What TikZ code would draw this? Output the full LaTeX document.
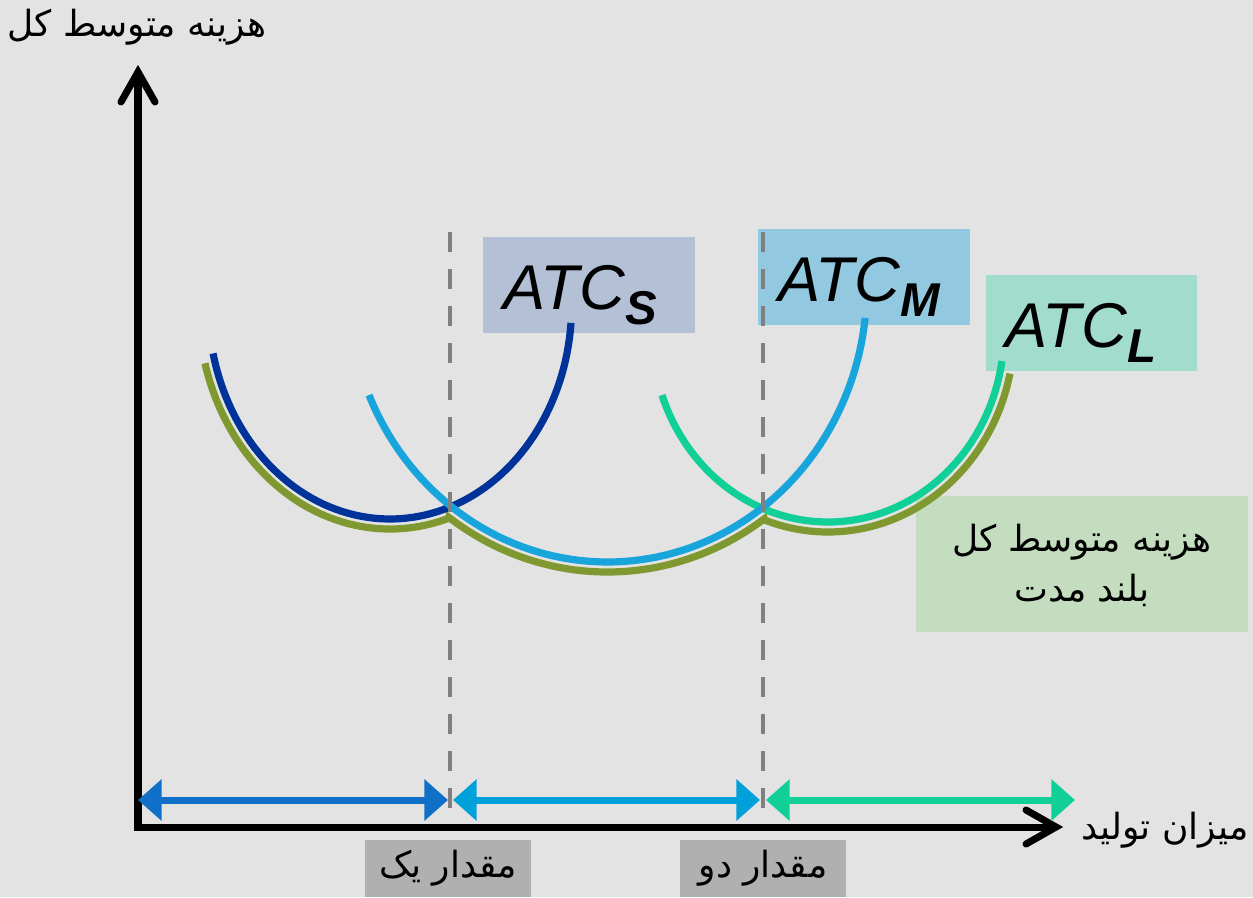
\documentclass[tikz,border=0pt]{standalone}
\usepackage{fontspec}
\setmainfont{Liberation Sans}
\newfontfamily\fafont[Script=Arabic]{DejaVu Sans}
\TeXXeTstate=1
\usetikzlibrary{arrows.meta}
\definecolor{bg}{RGB}{227,227,227}
\definecolor{dkblue}{RGB}{0,51,153}
\definecolor{ltblue}{RGB}{24,165,220}
\definecolor{teal1}{RGB}{16,208,152}
\definecolor{olive1}{RGB}{127,152,48}
\definecolor{arr1}{RGB}{16,112,200}
\definecolor{arr2}{RGB}{0,160,218}
\definecolor{arr3}{RGB}{16,208,152}
\definecolor{boxS}{RGB}{180,192,214}
\definecolor{boxM}{RGB}{146,200,224}
\definecolor{boxL}{RGB}{162,220,204}
\definecolor{boxLR}{RGB}{197,221,191}
\definecolor{boxQ}{RGB}{176,176,176}
\definecolor{dashgray}{RGB}{128,128,128}
\newcommand\myatc[1]{{\fontsize{36}{40}\selectfont\itshape ATC\raisebox{-9pt}{\fontsize{27}{30}\selectfont\bfseries\itshape #1}}}
\begin{document}
\begin{tikzpicture}[x=0.02cm,y=-0.02cm,
  fatext/.style={font=\fafont\fontsize{20.5}{28.5}\selectfont, inner sep=0pt},
  atclabel/.style={anchor=base west, inner sep=0pt},
  curve/.style={line width=4.1pt},
  axisline/.style={line width=4pt, black},
  dimarrow/.style={line width=4pt, {Triangle[length=13.5pt,width=23pt]}-{Triangle[length=13.5pt,width=23pt]}},
  guide/.style={dashgray, line width=2.5pt, dash pattern=on 11.4pt off 9.7pt}
]
\useasboundingbox (0,0) rectangle (1253,897);
\fill[bg] (0,0) rectangle (1253,897);

% label boxes
\fill[boxS] (483,237) rectangle (695,333);
\fill[boxM] (758,229) rectangle (970,325);
\fill[boxL] (986,275) rectangle (1197,371);
\fill[boxLR] (916,496) rectangle (1248,632);
\fill[boxQ] (365,840) rectangle (531,897);
\fill[boxQ] (680,840) rectangle (846,897);

% ATC labels
\node[atclabel] (tS) at (503,309) {\myatc{S}};
\node[atclabel] (tM) at (778,301) {\myatc{M}};
\node[atclabel] (tL) at (1005,347) {\myatc{L}};

% long-run envelope
\draw[curve, olive1] plot[domain=165:72.1, samples=60] ({390+191.6*cos(\x)},{305.4+223.6*sin(\x)})
  -- plot[domain=126.06:54.47, samples=60] ({607.5+269.3*cos(\x)},{287.3+284.7*sin(\x)})
  -- plot[domain=110.1:12, samples=60] ({828+186*cos(\x)},{332+200*sin(\x)});

% short-run curves
\draw[curve, dkblue] plot[domain=4.7:167, samples=80] ({390+181.6*cos(\x)},{305.4+213.6*sin(\x)});
\draw[curve, teal1] plot[domain=8.8:160.6, samples=80] ({828+176*cos(\x)},{332+190*sin(\x)});
\draw[curve, ltblue] plot[domain=6.4:156.9, samples=80] ({607.5+259.3*cos(\x)},{287.3+274.7*sin(\x)});

% axes
\coordinate (o) at (138,827);
\coordinate (yt) at (138,72);
\coordinate (xs) at (134,827);
\coordinate (xt) at (1056,827);
\draw[axisline] (o) -- (yt);
\draw[axisline, line cap=round, line join=miter] (yt) ++(-17,30) -- (yt) -- ++(17,30);
\draw[axisline] (xs) -- (xt);
\draw[axisline, line cap=round, line join=miter] (xt) ++(-30,-17) -- (xt) -- ++(-30,17);

% guide lines
\coordinate (g1t) at (450,232);
\coordinate (g1b) at (450,812);
\coordinate (g2t) at (763,232);
\coordinate (g2b) at (763,812);
\draw[guide] (g1t) -- (g1b);
\draw[guide] (g2t) -- (g2b);

% range arrows
\coordinate (a1) at (138,800);
\coordinate (a2) at (448,800);
\coordinate (a3) at (453,800);
\coordinate (a4) at (760,800);
\coordinate (a5) at (766,800);
\coordinate (a6) at (1075,800);
\draw[dimarrow, arr1] (a1) -- (a2);
\draw[dimarrow, arr2] (a3) -- (a4);
\draw[dimarrow, arr3] (a5) -- (a6);

% Persian texts
\node[fatext] (ylab) at (137,27) {\beginR هزینه متوسط کل\endR};
\node[fatext] (xlab) at (1165,830) {\beginR میزان تولید\endR};
\node[fatext, align=center] (lr) at (1082,565) {\beginR هزینه متوسط کل\endR\\\beginR بلند مدت\endR};
\node[fatext] (q1) at (448,868) {\beginR مقدار یک\endR};
\node[fatext] (q2) at (763,868) {\beginR مقدار دو\endR};
\end{tikzpicture}
\end{document}
